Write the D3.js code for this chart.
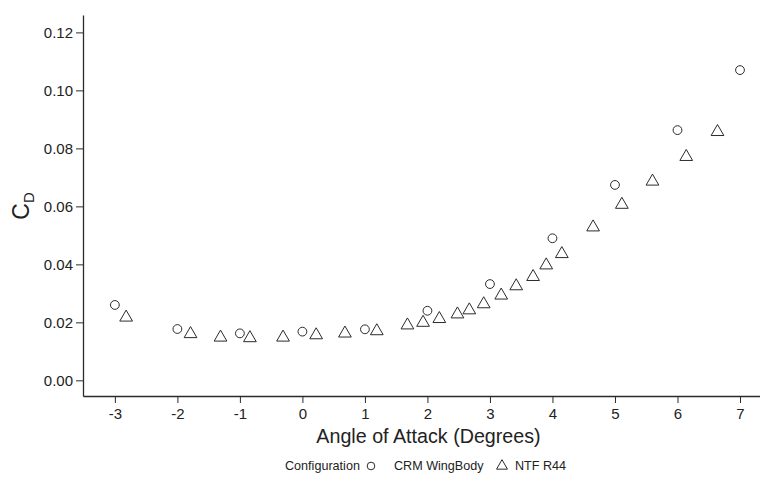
<!DOCTYPE html>
<html>
<head>
<meta charset="utf-8">
<script src="https://cdn.jsdelivr.net/npm/d3@7"></script>
<style>
  html, body { margin: 0; padding: 0; background: #fff; }
  svg { display: block; font-family: "Liberation Sans", Arial, sans-serif; }
</style>
</head>
<body>
<svg id="chart" width="760" height="481"></svg>
<script>
// Drag coefficient vs angle of attack for two configurations
const crmAlpha = [-3, -2, -1, 0, 1, 2, 3, 4, 5, 6, 7];
const crmCD    = [0.0260, 0.0177, 0.0162, 0.0168, 0.0176, 0.0240, 0.0332, 0.0490, 0.0674, 0.0863, 0.1070];

const ntfAlpha = [-2.82, -1.79, -1.31, -0.84, -0.31, 0.22, 0.68, 1.19, 1.68, 1.93, 2.19, 2.48, 2.67, 2.90, 3.18, 3.42, 3.69, 3.90, 4.15, 4.65, 5.11, 5.60, 6.14, 6.64];
const ntfCD    = [0.0217, 0.0160, 0.0148, 0.0146, 0.0148, 0.0156, 0.0162, 0.0170, 0.0190, 0.0199, 0.0212, 0.0228, 0.0242, 0.0263, 0.0293, 0.0325, 0.0357, 0.0397, 0.0436, 0.0528, 0.0606, 0.0686, 0.0771, 0.0857];

const xTicks = [-3, -2, -1, 0, 1, 2, 3, 4, 5, 6, 7];
const yTicks = [0.00, 0.02, 0.04, 0.06, 0.08, 0.10, 0.12];

const legendTitle = "Configuration";
const seriesNames = ["CRM WingBody", "NTF R44"];

const svg = d3.select("#chart");
const plotLeft = 83, plotRight = 760, plotTop = 15, plotBottom = 396;

const x = d3.scaleLinear().domain([-3.51, 7.32]).range([plotLeft, plotRight]);
const y = d3.scaleLinear().domain([-0.0054, 0.126]).range([plotBottom, plotTop]);

const ink = "#2b2b2b";

// Axes (plain hyphen for negative tick labels)
const xAxis = d3.axisBottom(x).tickValues(xTicks).tickFormat(d => String(d)).tickSize(7).tickSizeOuter(0).tickPadding(3);
const yAxis = d3.axisLeft(y).tickValues(yTicks).tickFormat(d => d.toFixed(2)).tickSize(7).tickSizeOuter(0).tickPadding(3);

const gx = svg.append("g").attr("transform", `translate(0,${plotBottom})`).call(xAxis);
const gy = svg.append("g").attr("transform", `translate(${plotLeft},0)`).call(yAxis);

[gx, gy].forEach(g => {
  g.select(".domain").attr("stroke", ink).attr("stroke-width", 1.3);
  g.selectAll(".tick line").attr("stroke", ink).attr("stroke-width", 1);
  g.selectAll(".tick text").attr("fill", "#222").style("font-size", "15px")
    .style("font-family", "'Liberation Sans', Arial, sans-serif");
});
gx.selectAll(".tick text").attr("dy", "0.85em");

// Axis titles
svg.append("text")
  .attr("x", (plotLeft + plotRight) / 2 + 7).attr("y", 443)
  .attr("text-anchor", "middle")
  .attr("fill", "#222")
  .style("font-size", "19.7px")
  .text("Angle of Attack (Degrees)");

const yTitle = svg.append("text")
  .attr("transform", "translate(29,206) rotate(-90)")
  .attr("text-anchor", "middle")
  .attr("fill", "#222")
  .style("font-size", "23px");
yTitle.append("tspan").text("C");
yTitle.append("tspan").attr("dy", 5).style("font-size", "15px").text("D");

// Markers
const triPath = d3.symbol().type(d3.symbolTriangle).size(70)();
const circR = 4.4;

svg.append("g").selectAll("circle")
  .data(crmAlpha.map((a, i) => [a, crmCD[i]]))
  .join("circle")
  .attr("cx", d => x(d[0])).attr("cy", d => y(d[1]))
  .attr("r", circR)
  .attr("fill", "none").attr("stroke", ink).attr("stroke-width", 1);

svg.append("g").selectAll("path")
  .data(ntfAlpha.map((a, i) => [a, ntfCD[i]]))
  .join("path")
  .attr("d", triPath)
  .attr("transform", d => `translate(${x(d[0])},${y(d[1])})`)
  .attr("fill", "none").attr("stroke", ink).attr("stroke-width", 1);

// Legend
const lg = svg.append("g").attr("transform", "translate(0,466)");
lg.append("text").attr("x", 285).attr("y", 0).attr("dy", "0.35em")
  .attr("fill", "#222").style("font-size", "12.6px").text(legendTitle);
lg.append("circle").attr("cx", 371).attr("cy", 0).attr("r", 3.8)
  .attr("fill", "none").attr("stroke", ink).attr("stroke-width", 1);
lg.append("text").attr("x", 394).attr("y", 0).attr("dy", "0.35em")
  .attr("fill", "#222").style("font-size", "12.6px").text(seriesNames[0]);
lg.append("path").attr("d", d3.symbol().type(d3.symbolTriangle).size(52)())
  .attr("transform", "translate(502,0)")
  .attr("fill", "none").attr("stroke", ink).attr("stroke-width", 1);
lg.append("text").attr("x", 515).attr("y", 0).attr("dy", "0.35em")
  .attr("fill", "#222").style("font-size", "12.6px").text(seriesNames[1]);
</script>
</body>
</html>
